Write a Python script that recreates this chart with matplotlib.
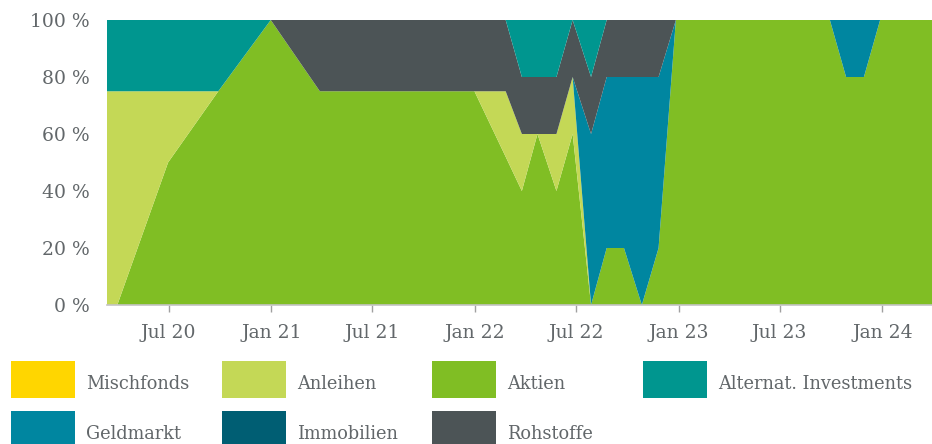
import matplotlib
matplotlib.use('Agg')
from matplotlib import pyplot as plt
from matplotlib import dates as mdates
from matplotlib.patches import Rectangle
from matplotlib.ticker import FuncFormatter
import pandas as pd

# allocation per rebalancing date, in percent
dates = ['2020-03-12', '2020-03-31', '2020-06-30', '2020-09-28', '2020-12-31',
         '2021-03-29', '2021-12-31', '2022-02-25', '2022-03-26', '2022-04-23',
         '2022-05-27', '2022-06-25', '2022-07-28', '2022-08-25', '2022-09-25',
         '2022-10-27', '2022-11-26', '2022-12-27', '2023-09-29', '2023-10-28',
         '2023-11-29', '2023-12-28', '2024-03-30']

mischfonds = [0, 0, 0, 0, 0, 0, 0, 0, 0, 0, 0, 0, 0, 0, 0, 0, 0, 0, 0, 0, 0, 0, 0]
aktien = [0, 0, 50, 75, 100, 75, 75, 52, 40, 60, 40, 60, 0, 20, 20, 0, 20, 100, 100, 80, 80, 100, 100]
anleihen = [75, 75, 25, 0, 0, 0, 0, 23, 20, 0, 20, 20, 0, 0, 0, 0, 0, 0, 0, 0, 0, 0, 0]
immobilien = [0, 0, 0, 0, 0, 0, 0, 0, 0, 0, 0, 0, 0, 0, 0, 0, 0, 0, 0, 0, 0, 0, 0]
geldmarkt = [0, 0, 0, 0, 0, 0, 0, 0, 0, 0, 0, 0, 60, 60, 60, 80, 60, 0, 0, 20, 20, 0, 0]
rohstoffe = [0, 0, 0, 0, 0, 25, 25, 25, 20, 20, 20, 20, 20, 20, 20, 20, 20, 0, 0, 0, 0, 0, 0]
alternat = [25, 25, 25, 25, 0, 0, 0, 0, 20, 20, 20, 0, 20, 0, 0, 0, 0, 0, 0, 0, 0, 0, 0]

legend_labels = ['Mischfonds', 'Anleihen', 'Aktien', 'Alternat. Investments',
                 'Geldmarkt', 'Immobilien', 'Rohstoffe']

colors = {
    'Mischfonds': '#FFD600',
    'Anleihen': '#C4D856',
    'Aktien': '#80BE24',
    'Alternat. Investments': '#00968F',
    'Geldmarkt': '#0086A0',
    'Immobilien': '#005E73',
    'Rohstoffe': '#4C5456',
}

TEXT = '#62676a'
W, H = 932, 444


def draw_legend(fig):
    for i, name in enumerate(legend_labels):
        row, col = divmod(i, 4)
        x0 = 11 + 210.7 * col
        top = 361 + 50 * row
        fig.patches.append(Rectangle((x0 / W, 1 - (top + 37) / H), 64 / W, 37 / H,
                                     transform=fig.transFigure, facecolor=colors[name],
                                     edgecolor='none'))
        fig.text((x0 + 75) / W, 1 - (389 + 50 * row) / H, name, fontsize=12.8,
                 color=TEXT, va='baseline', ha='left')


def main():
    plt.rcParams['font.family'] = ['DejaVu Serif']
    x = pd.to_datetime(dates)

    fig = plt.figure(figsize=(W / 100, H / 100), dpi=100)
    ax = fig.add_axes([106.7 / W, 1 - 305 / H, (W - 106.7) / W, 285 / H])

    order = ['Mischfonds', 'Aktien', 'Anleihen', 'Immobilien', 'Geldmarkt',
             'Rohstoffe', 'Alternat. Investments']
    series = {'Mischfonds': mischfonds, 'Aktien': aktien, 'Anleihen': anleihen,
              'Immobilien': immobilien, 'Geldmarkt': geldmarkt,
              'Rohstoffe': rohstoffe, 'Alternat. Investments': alternat}
    ax.stackplot(x, [series[k] for k in order], colors=[colors[k] for k in order],
                 linewidth=0)

    ax.set_xlim(x[0], x[-1])
    ax.set_ylim(0, 100)
    for s in ['top', 'right', 'left']:
        ax.spines[s].set_visible(False)
    ax.spines['bottom'].set_color('#c4c4c4')
    ax.spines['bottom'].set_linewidth(1.2)

    ax.xaxis.set_major_locator(mdates.MonthLocator(bymonth=(1, 7)))
    ax.xaxis.set_major_formatter(mdates.DateFormatter('%b %y'))
    ax.tick_params(axis='x', length=5, width=1, color='#a0a0a0', pad=9,
                   labelsize=13.5, labelcolor=TEXT)

    ax.set_yticks([0, 20, 40, 60, 80, 100])
    ax.yaxis.set_major_formatter(FuncFormatter(lambda v, p: f'{v:.0f} %'))
    ax.tick_params(axis='y', length=0, pad=12, labelsize=13.5, labelcolor=TEXT)

    draw_legend(fig)
    fig.savefig('out.png', dpi=100)


if __name__ == '__main__':
    main()
